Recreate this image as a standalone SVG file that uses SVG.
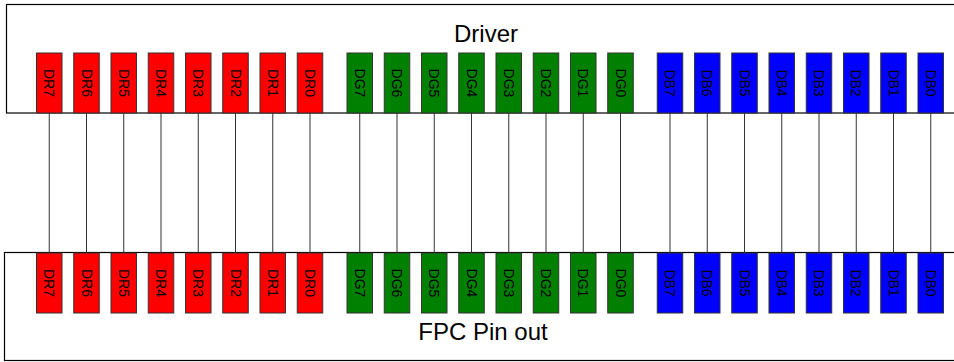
<svg xmlns="http://www.w3.org/2000/svg" width="954" height="362" viewBox="0 0 954 362">
<style>
.box{fill:#fff;stroke:#000;stroke-width:1.2}
.pin{stroke:#333;stroke-width:1}
.r{fill:#ff0000}.g{fill:#008000}.b{fill:#0000ff}
.pt{font-family:"Liberation Sans",Arial,sans-serif;font-size:14px;fill:#000;text-anchor:middle}
.title{font-family:"Liberation Sans",Arial,sans-serif;font-size:24px;fill:#000;text-anchor:middle}
.wire{stroke:#333;stroke-width:1;fill:none}
</style>
<g id="driver">
<rect class="box" x="6.5" y="4.5" width="960" height="108.5"/>
<text class="title" x="486" y="41.5">Driver</text>
</g>
<g id="fpc">
<rect class="box" x="4.5" y="252.5" width="960" height="108"/>
<text class="title" x="483" y="339.5">FPC Pin out</text>
</g>
<g id="connectors">
<path class="wire" d="M49.25 113V253M86.5 113V253M123.75 113V253M161 113V253M198.25 113V253M235.5 113V253M272.75 113V253M310 113V253"/>
<path class="wire" d="M359.75 113V253M397 113V253M434.25 113V253M471.5 113V253M508.75 113V253M546 113V253M583.25 113V253M620.5 113V253"/>
<path class="wire" d="M670 113V253M707.25 113V253M744.5 113V253M781.75 113V253M819 113V253M856.25 113V253M893.5 113V253M930.75 113V253"/>
</g>
<g id="driver-pins">
<g id="t-DR7"><rect class="pin r" x="36.5" y="53" width="25.5" height="60"/><text class="pt" transform="translate(49.25 83) rotate(90)" y="5">DR7</text></g>
<g id="t-DR6"><rect class="pin r" x="73.75" y="53" width="25.5" height="60"/><text class="pt" transform="translate(86.5 83) rotate(90)" y="5">DR6</text></g>
<g id="t-DR5"><rect class="pin r" x="111" y="53" width="25.5" height="60"/><text class="pt" transform="translate(123.75 83) rotate(90)" y="5">DR5</text></g>
<g id="t-DR4"><rect class="pin r" x="148.25" y="53" width="25.5" height="60"/><text class="pt" transform="translate(161 83) rotate(90)" y="5">DR4</text></g>
<g id="t-DR3"><rect class="pin r" x="185.5" y="53" width="25.5" height="60"/><text class="pt" transform="translate(198.25 83) rotate(90)" y="5">DR3</text></g>
<g id="t-DR2"><rect class="pin r" x="222.75" y="53" width="25.5" height="60"/><text class="pt" transform="translate(235.5 83) rotate(90)" y="5">DR2</text></g>
<g id="t-DR1"><rect class="pin r" x="260" y="53" width="25.5" height="60"/><text class="pt" transform="translate(272.75 83) rotate(90)" y="5">DR1</text></g>
<g id="t-DR0"><rect class="pin r" x="297.25" y="53" width="25.5" height="60"/><text class="pt" transform="translate(310 83) rotate(90)" y="5">DR0</text></g>
<g id="t-DG7"><rect class="pin g" x="347" y="53" width="25.5" height="60"/><text class="pt" transform="translate(359.75 83) rotate(90)" y="5">DG7</text></g>
<g id="t-DG6"><rect class="pin g" x="384.25" y="53" width="25.5" height="60"/><text class="pt" transform="translate(397 83) rotate(90)" y="5">DG6</text></g>
<g id="t-DG5"><rect class="pin g" x="421.5" y="53" width="25.5" height="60"/><text class="pt" transform="translate(434.25 83) rotate(90)" y="5">DG5</text></g>
<g id="t-DG4"><rect class="pin g" x="458.75" y="53" width="25.5" height="60"/><text class="pt" transform="translate(471.5 83) rotate(90)" y="5">DG4</text></g>
<g id="t-DG3"><rect class="pin g" x="496" y="53" width="25.5" height="60"/><text class="pt" transform="translate(508.75 83) rotate(90)" y="5">DG3</text></g>
<g id="t-DG2"><rect class="pin g" x="533.25" y="53" width="25.5" height="60"/><text class="pt" transform="translate(546 83) rotate(90)" y="5">DG2</text></g>
<g id="t-DG1"><rect class="pin g" x="570.5" y="53" width="25.5" height="60"/><text class="pt" transform="translate(583.25 83) rotate(90)" y="5">DG1</text></g>
<g id="t-DG0"><rect class="pin g" x="607.75" y="53" width="25.5" height="60"/><text class="pt" transform="translate(620.5 83) rotate(90)" y="5">DG0</text></g>
<g id="t-DB7"><rect class="pin b" x="657.25" y="53" width="25.5" height="60"/><text class="pt" transform="translate(670 83) rotate(90)" y="5">DB7</text></g>
<g id="t-DB6"><rect class="pin b" x="694.5" y="53" width="25.5" height="60"/><text class="pt" transform="translate(707.25 83) rotate(90)" y="5">DB6</text></g>
<g id="t-DB5"><rect class="pin b" x="731.75" y="53" width="25.5" height="60"/><text class="pt" transform="translate(744.5 83) rotate(90)" y="5">DB5</text></g>
<g id="t-DB4"><rect class="pin b" x="769" y="53" width="25.5" height="60"/><text class="pt" transform="translate(781.75 83) rotate(90)" y="5">DB4</text></g>
<g id="t-DB3"><rect class="pin b" x="806.25" y="53" width="25.5" height="60"/><text class="pt" transform="translate(819 83) rotate(90)" y="5">DB3</text></g>
<g id="t-DB2"><rect class="pin b" x="843.5" y="53" width="25.5" height="60"/><text class="pt" transform="translate(856.25 83) rotate(90)" y="5">DB2</text></g>
<g id="t-DB1"><rect class="pin b" x="880.75" y="53" width="25.5" height="60"/><text class="pt" transform="translate(893.5 83) rotate(90)" y="5">DB1</text></g>
<g id="t-DB0"><rect class="pin b" x="918" y="53" width="25.5" height="60"/><text class="pt" transform="translate(930.75 83) rotate(90)" y="5">DB0</text></g>
</g>
<g id="fpc-pins">
<g id="b-DR7"><rect class="pin r" x="36.5" y="253" width="25.5" height="60"/><text class="pt" transform="translate(49.25 283) rotate(90)" y="5">DR7</text></g>
<g id="b-DR6"><rect class="pin r" x="73.75" y="253" width="25.5" height="60"/><text class="pt" transform="translate(86.5 283) rotate(90)" y="5">DR6</text></g>
<g id="b-DR5"><rect class="pin r" x="111" y="253" width="25.5" height="60"/><text class="pt" transform="translate(123.75 283) rotate(90)" y="5">DR5</text></g>
<g id="b-DR4"><rect class="pin r" x="148.25" y="253" width="25.5" height="60"/><text class="pt" transform="translate(161 283) rotate(90)" y="5">DR4</text></g>
<g id="b-DR3"><rect class="pin r" x="185.5" y="253" width="25.5" height="60"/><text class="pt" transform="translate(198.25 283) rotate(90)" y="5">DR3</text></g>
<g id="b-DR2"><rect class="pin r" x="222.75" y="253" width="25.5" height="60"/><text class="pt" transform="translate(235.5 283) rotate(90)" y="5">DR2</text></g>
<g id="b-DR1"><rect class="pin r" x="260" y="253" width="25.5" height="60"/><text class="pt" transform="translate(272.75 283) rotate(90)" y="5">DR1</text></g>
<g id="b-DR0"><rect class="pin r" x="297.25" y="253" width="25.5" height="60"/><text class="pt" transform="translate(310 283) rotate(90)" y="5">DR0</text></g>
<g id="b-DG7"><rect class="pin g" x="347" y="253" width="25.5" height="60"/><text class="pt" transform="translate(359.75 283) rotate(90)" y="5">DG7</text></g>
<g id="b-DG6"><rect class="pin g" x="384.25" y="253" width="25.5" height="60"/><text class="pt" transform="translate(397 283) rotate(90)" y="5">DG6</text></g>
<g id="b-DG5"><rect class="pin g" x="421.5" y="253" width="25.5" height="60"/><text class="pt" transform="translate(434.25 283) rotate(90)" y="5">DG5</text></g>
<g id="b-DG4"><rect class="pin g" x="458.75" y="253" width="25.5" height="60"/><text class="pt" transform="translate(471.5 283) rotate(90)" y="5">DG4</text></g>
<g id="b-DG3"><rect class="pin g" x="496" y="253" width="25.5" height="60"/><text class="pt" transform="translate(508.75 283) rotate(90)" y="5">DG3</text></g>
<g id="b-DG2"><rect class="pin g" x="533.25" y="253" width="25.5" height="60"/><text class="pt" transform="translate(546 283) rotate(90)" y="5">DG2</text></g>
<g id="b-DG1"><rect class="pin g" x="570.5" y="253" width="25.5" height="60"/><text class="pt" transform="translate(583.25 283) rotate(90)" y="5">DG1</text></g>
<g id="b-DG0"><rect class="pin g" x="607.75" y="253" width="25.5" height="60"/><text class="pt" transform="translate(620.5 283) rotate(90)" y="5">DG0</text></g>
<g id="b-DB7"><rect class="pin b" x="657.25" y="253" width="25.5" height="60"/><text class="pt" transform="translate(670 283) rotate(90)" y="5">DB7</text></g>
<g id="b-DB6"><rect class="pin b" x="694.5" y="253" width="25.5" height="60"/><text class="pt" transform="translate(707.25 283) rotate(90)" y="5">DB6</text></g>
<g id="b-DB5"><rect class="pin b" x="731.75" y="253" width="25.5" height="60"/><text class="pt" transform="translate(744.5 283) rotate(90)" y="5">DB5</text></g>
<g id="b-DB4"><rect class="pin b" x="769" y="253" width="25.5" height="60"/><text class="pt" transform="translate(781.75 283) rotate(90)" y="5">DB4</text></g>
<g id="b-DB3"><rect class="pin b" x="806.25" y="253" width="25.5" height="60"/><text class="pt" transform="translate(819 283) rotate(90)" y="5">DB3</text></g>
<g id="b-DB2"><rect class="pin b" x="843.5" y="253" width="25.5" height="60"/><text class="pt" transform="translate(856.25 283) rotate(90)" y="5">DB2</text></g>
<g id="b-DB1"><rect class="pin b" x="880.75" y="253" width="25.5" height="60"/><text class="pt" transform="translate(893.5 283) rotate(90)" y="5">DB1</text></g>
<g id="b-DB0"><rect class="pin b" x="918" y="253" width="25.5" height="60"/><text class="pt" transform="translate(930.75 283) rotate(90)" y="5">DB0</text></g>
</g>
</svg>
